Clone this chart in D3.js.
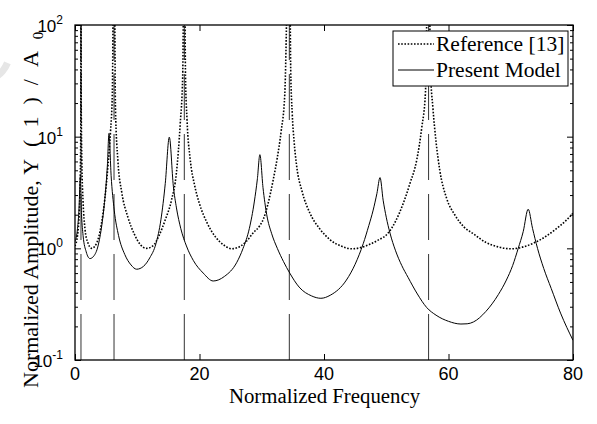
<!DOCTYPE html>
<html>
<head>
<meta charset="utf-8">
<script src="https://cdn.jsdelivr.net/npm/d3@7"></script>
<style>
  html, body { margin: 0; padding: 0; background: #fff; }
  svg { display: block; }
</style>
</head>
<body>
<svg id="chart" width="597" height="424"></svg>
<script>
// ---------- DATA ----------
// Reference [13] (dotted): normalized frequency / normalized amplitude
// (the 1000 entries stand for the unbounded resonance peaks that leave the plot)
const refFreq = [0, 0.4, 0.7, 0.85, 0.93, 0.96,
  1.0, 1.1, 1.3, 1.6, 2.0, 2.7, 3.5, 4.2, 4.8, 5.3, 5.7, 6.0, 6.27,
  6.5, 6.9, 7.5, 8.5, 9.5, 10.5, 11.5, 12.5, 13.5, 14.5, 15.5, 16.3, 16.9, 17.3, 17.56,
  17.75, 18.0, 18.5, 19.2, 20.0, 21.2, 22.5, 24.0, 25.2, 26.5, 27.5, 28.6, 29.7, 30.3, 31.0, 31.8, 32.5, 33.1, 33.7, 34.43,
  34.65, 34.9, 35.2, 35.6, 36.5, 37.75, 39.3, 41.0, 42.7, 44.5, 46.5, 48.5, 50.3, 51.5, 52.7, 53.8, 54.9, 55.7, 56.3, 56.8,
  57.1, 57.5, 58.0, 58.6, 59.7, 61.0, 62.5, 64.0, 66.0, 68.0, 70.1, 72.5, 74.7, 77.0, 79.0, 80.0];
const refAmp = [1.05, 1.3, 2.2, 4.5, 12, 1000,
  20, 6, 2.6, 1.5, 1.15, 1.0, 1.12, 1.6, 2.8, 5.5, 11, 25, 1000,
  18, 6, 3.2, 1.9, 1.35, 1.08, 1.0, 1.05, 1.3, 1.8, 2.7, 4.8, 13, 35, 1000,
  35, 14, 6.3, 3.7, 2.5, 1.7, 1.28, 1.06, 0.99, 1.04, 1.15, 1.37, 1.6, 1.85, 2.5, 4.0, 6.5, 11, 24, 1000,
  40, 16, 9, 5.5, 3.2, 2.06, 1.5, 1.19, 1.05, 0.99, 1.04, 1.17, 1.37, 1.75, 2.5, 3.8, 6.2, 12, 25, 1000,
  40, 18, 9, 5, 2.8, 2.0, 1.55, 1.35, 1.13, 1.03, 0.99, 1.05, 1.19, 1.45, 1.8, 2.06];

// Present Model (solid)
const modelFreq = [0, 0.4, 0.65, 0.85, 1.05, 1.3, 1.8, 2.4, 3.0, 3.7, 4.3, 4.8, 5.2, 5.46,
  5.8, 6.3, 7.0, 8.0, 9.0, 9.9, 11.0, 12.0, 13.0, 13.8, 14.5, 15.15,
  15.8, 16.3, 17.0, 17.9, 19.0, 20.6, 22.2, 24.0, 26.0, 27.0, 28.0, 28.8, 29.3, 29.7,
  30.2, 30.8, 31.6, 32.5, 33.5, 34.5, 36.0, 38.0, 39.5, 41.0, 43.6, 45.0, 46.3, 47.2, 47.9, 48.5, 49.0,
  49.5, 50.0, 50.6, 51.5, 52.5, 53.5, 55.0, 56.5, 58.0, 60.0, 62.0, 63.0, 64.0, 66.0, 68.0, 69.3, 70.3, 71.2, 72.0, 72.8,
  73.5, 74.3, 75.3, 76.5, 78.0, 80.0];
const modelAmp = [1.15, 1.5, 2.3, 4.4, 2.0, 1.3, 0.93, 0.81, 0.85, 1.05, 1.6, 2.8, 5.5, 10.7,
  4.5, 2.2, 1.3, 0.88, 0.71, 0.65, 0.69, 0.82, 1.1, 1.8, 3.8, 9.9,
  3.6, 2.3, 1.5, 1.05, 0.78, 0.6, 0.51, 0.56, 0.75, 1.0, 1.5, 2.6, 4.2, 6.9,
  3.5, 2.0, 1.35, 1.0, 0.76, 0.6, 0.45, 0.375, 0.357, 0.38, 0.52, 0.72, 1.1, 1.6, 2.2, 3.1, 4.3,
  2.7, 1.9, 1.37, 0.95, 0.7, 0.55, 0.39, 0.295, 0.252, 0.222, 0.21, 0.211, 0.219, 0.272, 0.385, 0.52, 0.7, 1.0, 1.41, 2.24,
  1.51, 1.0, 0.66, 0.437, 0.263, 0.15];

// Resonance frequencies of the reference (thin vertical dashed lines)
const poleFreqs = [0.96, 6.27, 17.56, 34.43, 56.8];

const xTickValues = [0, 20, 40, 60, 80];
const yTickExponents = [-1, 0, 1, 2];
const legendLabels = ["Reference [13]", "Present Model"];
const xTitle = "Normalized Frequency";
const yTitleWords = "Normalized Amplitude, ";
const yTitleSymbol = "Y(1)/A";
const yTitleSub = "0";

// ---------- LAYOUT ----------
const svg = d3.select("#chart");
const L = 75, R = 573, T = 25, B = 360;

const x = d3.scaleLinear().domain([0, 80]).range([L, R]);
const y = d3.scaleLog().domain([0.1, 100]).range([B, T]);

// faint watermark arc (top-left of the original page)
svg.append("path")
  .attr("d", d3.arc()({innerRadius: 26, outerRadius: 33, startAngle: Math.PI * 0.62, endAngle: Math.PI * 1.05}))
  .attr("transform", "translate(-20,52)")
  .attr("fill", "#e6e6e6");

const defs = svg.append("defs");
defs.append("clipPath").attr("id", "plotclip")
  .append("rect").attr("x", L).attr("y", T).attr("width", R - L).attr("height", B - T);

const plot = svg.append("g").attr("clip-path", "url(#plotclip)");

// vertical resonance lines
plot.selectAll("line.pole").data(poleFreqs).enter().append("line")
  .attr("class", "pole")
  .attr("x1", d => x(d)).attr("x2", d => x(d))
  .attr("y1", B).attr("y2", T)
  .attr("stroke", "#333").attr("stroke-width", 1)
  .attr("stroke-dasharray", "46,14");

const refData = refFreq.map((f, i) => [f, refAmp[i]]);
const modelData = modelFreq.map((f, i) => [f, modelAmp[i]]);

const line = d3.line().x(d => x(d[0])).y(d => y(d[1])).curve(d3.curveMonotoneX);

plot.append("path").datum(modelData)
  .attr("d", line).attr("fill", "none")
  .attr("stroke", "#000").attr("stroke-width", 1);

plot.append("path").datum(refData)
  .attr("d", line).attr("fill", "none")
  .attr("stroke", "#000").attr("stroke-width", 1.6)
  .attr("stroke-dasharray", "1.6,1.6");

// ---------- AXES ----------
const minorTicks = [];
yTickExponents.slice(0, -1).forEach(e => {
  for (let k = 2; k <= 9; k++) minorTicks.push(k * Math.pow(10, e));
});
const majorTicks = yTickExponents.map(e => Math.pow(10, e));

function styleAxis(g) {
  g.select(".domain").remove();
  g.selectAll(".tick line").attr("stroke", "#000").attr("stroke-width", 1);
}

// bottom & top x ticks (inward)
svg.append("g").attr("transform", `translate(0,${B})`)
  .call(d3.axisBottom(x).tickValues(xTickValues).tickSize(-6).tickFormat(""))
  .call(styleAxis);
svg.append("g").attr("transform", `translate(0,${T})`)
  .call(d3.axisTop(x).tickValues(xTickValues).tickSize(-6).tickFormat(""))
  .call(styleAxis);

// left & right y ticks (inward)
svg.append("g").attr("transform", `translate(${L},0)`)
  .call(d3.axisLeft(y).tickValues(majorTicks).tickSize(-6).tickFormat(""))
  .call(styleAxis);
svg.append("g").attr("transform", `translate(${L},0)`)
  .call(d3.axisLeft(y).tickValues(minorTicks).tickSize(-3).tickFormat(""))
  .call(styleAxis);
svg.append("g").attr("transform", `translate(${R},0)`)
  .call(d3.axisRight(y).tickValues(majorTicks).tickSize(-6).tickFormat(""))
  .call(styleAxis);
svg.append("g").attr("transform", `translate(${R},0)`)
  .call(d3.axisRight(y).tickValues(minorTicks).tickSize(-3).tickFormat(""))
  .call(styleAxis);

// frame
svg.append("rect").attr("x", L).attr("y", T).attr("width", R - L).attr("height", B - T)
  .attr("fill", "none").attr("stroke", "#000").attr("stroke-width", 1.3);

// x tick labels
svg.selectAll("text.xtl").data(xTickValues).enter().append("text")
  .attr("class", "xtl")
  .attr("x", d => x(d)).attr("y", B + 20)
  .attr("text-anchor", "middle")
  .attr("font-family", "Liberation Sans, Arial, sans-serif")
  .attr("font-size", 18)
  .text(d => d);

// y tick labels 10^e
const ytl = svg.selectAll("text.ytl").data(yTickExponents).enter().append("text")
  .attr("class", "ytl")
  .attr("x", 63).attr("y", d => y(Math.pow(10, d)) + 7)
  .attr("text-anchor", "end")
  .attr("font-family", "Liberation Sans, Arial, sans-serif")
  .attr("font-size", 17);
ytl.append("tspan").text("10");
ytl.append("tspan").attr("dy", -8).attr("font-size", 12).text(d => d);

// axis titles
svg.append("text")
  .attr("x", x(40) + 0.5).attr("y", 403)
  .attr("text-anchor", "middle")
  .attr("font-family", "Liberation Serif, Times New Roman, serif")
  .attr("font-size", 20.8)
  .text(xTitle);

const yt = svg.append("text")
  .attr("transform", `translate(38,388) rotate(-90)`)
  .attr("text-anchor", "start")
  .attr("font-family", "Liberation Serif, Times New Roman, serif")
  .attr("font-size", 22);
yt.append("tspan").text(yTitleWords);
yt.append("tspan").style("letter-spacing", "12px").text(yTitleSymbol);
yt.append("tspan").attr("dy", 5).attr("font-size", 15).text(yTitleSub);

// ---------- LEGEND ----------
const lg = svg.append("g");
lg.append("rect").attr("x", 393).attr("y", 31).attr("width", 175).attr("height", 55)
  .attr("fill", "#fff").attr("stroke", "#000").attr("stroke-width", 1);
const legendRows = [
  {label: legendLabels[0], dash: "1.6,1.6", w: 1.6},
  {label: legendLabels[1], dash: null, w: 1}
];
legendRows.forEach((r, i) => {
  const yy = 44 + i * 26;
  const ln = lg.append("line").attr("x1", 398).attr("x2", 434).attr("y1", yy).attr("y2", yy)
    .attr("stroke", "#000").attr("stroke-width", r.w);
  if (r.dash) ln.attr("stroke-dasharray", r.dash);
  lg.append("text").attr("x", 436).attr("y", yy + 6.5)
    .attr("font-family", "Liberation Serif, Times New Roman, serif")
    .attr("font-size", 21.5)
    .text(r.label);
});
</script>
</body>
</html>
